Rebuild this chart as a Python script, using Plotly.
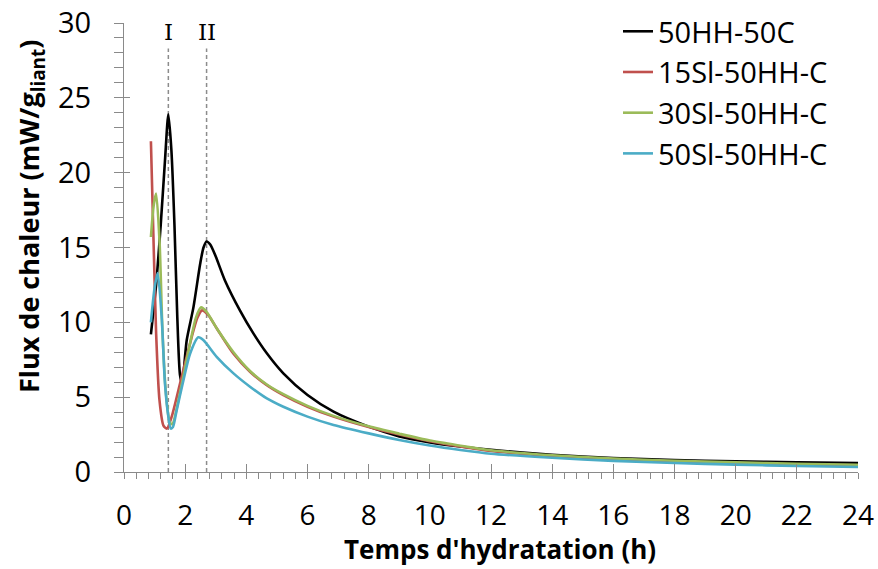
import plotly.graph_objects as go

# ---------------- data ----------------
series_names = ["50HH-50C", "15Sl-50HH-C", "30Sl-50HH-C", "50Sl-50HH-C"]
series_colors = ["#000000", "#C0504D", "#9BBB59", "#4BACC6"]

t_black = [0.88, 1.05, 1.2, 1.34, 1.45, 1.55, 1.65, 1.74, 1.83, 1.9, 2.05, 2.27, 2.49, 2.6, 2.7, 2.82, 3.0, 3.3,
           3.79, 4.23, 4.67, 5.21, 6.0, 6.85, 8.0, 9.0, 10.0, 11.0, 12, 14, 16, 18, 20, 22, 24]
q_black = [9.2, 12.5, 16.5, 20.8, 23.9, 21.5, 16.5, 10.5, 6.5, 5.9, 8.8, 11.0, 13.9, 15.0, 15.4, 15.2, 14.4, 12.8,
           10.8, 9.26, 7.93, 6.59, 5.14, 4.03, 3.03, 2.38, 1.98, 1.70, 1.48, 1.15, 0.93, 0.80, 0.71, 0.65, 0.60]

t_red = [0.88, 0.96, 1.05, 1.16, 1.29, 1.40, 1.56, 1.83, 2.16, 2.4, 2.55, 2.75, 3.03, 3.58, 4.12, 4.67,
         5.21, 6.0, 6.85, 8.0, 9.0, 10, 11, 12, 14, 16, 18, 20, 22, 24]
q_red = [22.1, 15.9, 9.3, 4.8, 3.1, 2.9, 3.7, 5.9, 8.6, 10.3, 10.8, 10.5, 9.6, 7.9, 6.7, 5.8,
         5.14, 4.36, 3.70, 3.0, 2.50, 2.05, 1.70, 1.40, 1.07, 0.85, 0.70, 0.59, 0.50, 0.44]

t_green = [0.88, 0.97, 1.05, 1.16, 1.26, 1.37, 1.5, 1.58, 1.83, 2.16, 2.35, 2.52, 2.7, 3.03, 3.58, 4.12,
           4.67, 5.21, 6.0, 6.85, 8.0, 9.0, 10, 11, 12, 14, 16, 18, 20, 22, 24]
q_green = [15.7, 17.8, 18.6, 15.5, 9.3, 5.3, 3.3, 3.2, 5.3, 8.6, 10.3, 11.0, 10.7, 9.6, 8.0, 6.75,
           5.85, 5.2, 4.42, 3.75, 3.05, 2.56, 2.10, 1.76, 1.45, 1.12, 0.90, 0.75, 0.64, 0.55, 0.48]

t_blue = [0.88, 1.0, 1.10, 1.23, 1.34, 1.45, 1.53, 1.6, 1.72, 1.94, 2.16, 2.43, 2.6, 3.03, 3.58, 4.12,
          4.67, 5.21, 6.0, 6.85, 8.0, 9.0, 10, 11, 12, 14, 16, 18, 20, 22, 24]
q_blue = [10.0, 12.3, 13.3, 10.4, 5.9, 3.7, 2.9, 3.0, 4.1, 6.1, 7.9, 9.0, 8.8, 7.7, 6.59, 5.7,
          4.92, 4.36, 3.70, 3.14, 2.58, 2.14, 1.77, 1.47, 1.22, 0.95, 0.74, 0.60, 0.49, 0.40, 0.33]

phase_times = [1.45, 2.7]
phase_labels = ["I", "II"]

x_title = "Temps d'hydratation (h)"
y_title = "Flux de chaleur (mW/g<sub>liant</sub>)"

# ---------------- figure ----------------
FONT = "Open Sans"
fig = go.Figure()

all_t = [t_black, t_red, t_green, t_blue]
all_q = [q_black, q_red, q_green, q_blue]
for i, (name, col, tt, qq) in enumerate(zip(series_names, series_colors, all_t, all_q)):
    fig.add_trace(go.Scatter(
        x=tt, y=qq, name=name, mode="lines",
        line=dict(color=col, width=2.6, shape="spline", smoothing=0.7),
        legendgroup=f"g{i}",
    ))

# empty helper traces so the overlay axes (inner half of crossing major ticks) are drawn
fig.add_trace(go.Scatter(x=[None], y=[None], xaxis="x2", yaxis="y", showlegend=False, hoverinfo="skip"))
fig.add_trace(go.Scatter(x=[None], y=[None], xaxis="x", yaxis="y2", showlegend=False, hoverinfo="skip"))

for t, lab in zip(phase_times, phase_labels):
    fig.add_shape(type="line", x0=t, x1=t, y0=0, y1=28.3, xref="x", yref="y",
                  line=dict(color="#8c8c8c", width=1.5, dash="4px,3px"), layer="below")
    fig.add_annotation(x=t, y=29.4, text=lab, showarrow=False, xref="x", yref="y",
                       font=dict(family="DejaVu Serif", size=23, color="#000"))

fig.add_annotation(text=y_title, textangle=-90, xref="paper", yref="paper",
                   x=-0.128, y=0.57, xanchor="center", yanchor="middle", showarrow=False,
                   font=dict(family=FONT, size=27, color="#000", weight="bold"))
fig.add_annotation(text=x_title, xref="paper", yref="paper",
                   x=0.512, y=-0.172, xanchor="center", yanchor="middle", showarrow=False,
                   font=dict(family=FONT, size=26, color="#000", weight="bold"))

axis_col = "#8a8a8a"
fig.update_layout(
    width=878, height=569,
    margin=dict(l=124, r=20, t=23, b=97, autoexpand=False),
    paper_bgcolor="white", plot_bgcolor="white",
    font=dict(family=FONT, size=24, color="#000"),
    showlegend=True,
    legend=dict(x=0.673, y=1.038, xanchor="left", yanchor="top",
                font=dict(family=FONT, size=29, color="#000"),
                bgcolor="rgba(0,0,0,0)", tracegroupgap=0, traceorder="grouped",
                itemwidth=30),
    xaxis=dict(range=[0, 24], dtick=2, tick0=0, showgrid=False, zeroline=False, automargin=False,
               showline=True, linecolor=axis_col, linewidth=1,
               ticks="outside", ticklen=6, tickcolor=axis_col, tickwidth=1,
               ticklabelstandoff=12,
               minor=dict(dtick=0.4, ticks="outside", ticklen=6, tickcolor=axis_col, showgrid=False),
               tickfont=dict(size=28)),
    yaxis=dict(range=[0, 30], dtick=5, tick0=0, showgrid=False, zeroline=False, automargin=False,
               showline=True, linecolor=axis_col, linewidth=1,
               ticks="outside", ticklen=9, tickcolor=axis_col, tickwidth=1,
               ticklabelstandoff=17,
               minor=dict(dtick=1, ticks="outside", ticklen=9, tickcolor=axis_col, showgrid=False),
               tickfont=dict(size=29)),
    xaxis2=dict(overlaying="x", anchor="y", range=[0, 24], dtick=2, tick0=0, showgrid=False,
                zeroline=False, showline=False, ticks="inside", ticklen=8, tickcolor=axis_col,
                showticklabels=False, side="bottom", automargin=False),
    yaxis2=dict(overlaying="y", anchor="x", range=[0, 30], dtick=5, tick0=0, showgrid=False,
                zeroline=False, showline=False, ticks="inside", ticklen=6, tickcolor=axis_col,
                showticklabels=False, side="left", automargin=False),
)

fig.write_html("out.html",
               config={"displayModeBar": False},
               post_script="document.body.style.margin='0';document.body.style.padding='0';")
